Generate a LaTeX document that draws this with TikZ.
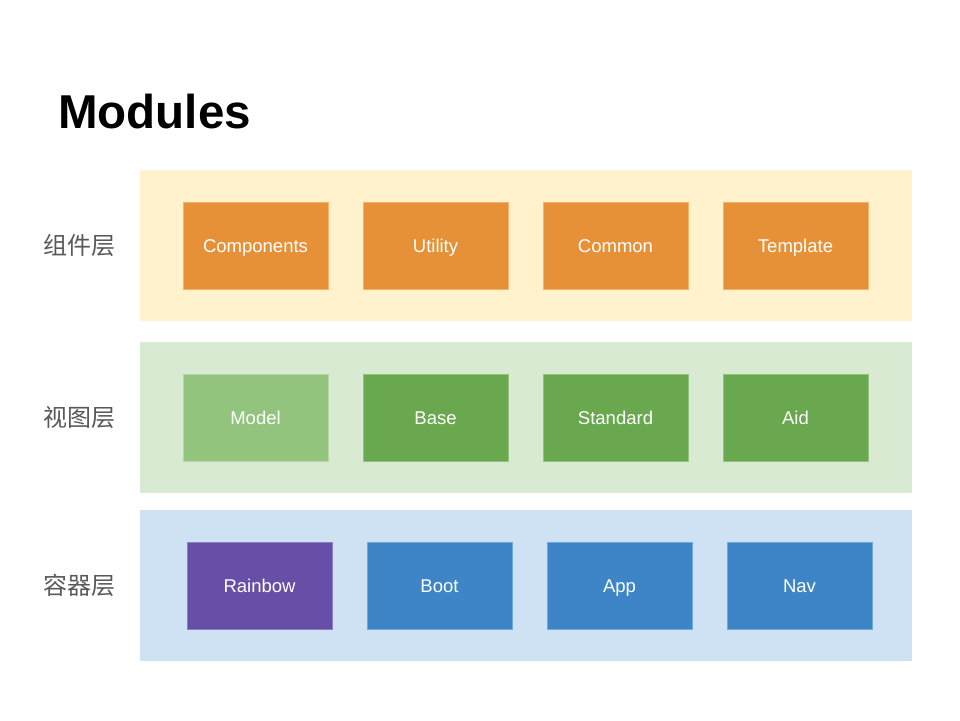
\documentclass[tikz,border=0pt]{standalone}
\usepackage{fontspec}
\setmainfont{Liberation Sans}
\newfontfamily\cjk{Noto Sans CJK SC}
\definecolor{bandY}{HTML}{FFF2CC}
\definecolor{bandG}{HTML}{D9EAD3}
\definecolor{bandB}{HTML}{CFE2F3}
\definecolor{orangeM}{HTML}{E69138}
\definecolor{orangeL}{HTML}{F6B26B}
\definecolor{greenM}{HTML}{6AA84F}
\definecolor{greenL}{HTML}{93C47D}
\definecolor{greenB}{HTML}{B6D7A8}
\definecolor{blueM}{HTML}{3D85C6}
\definecolor{blueL}{HTML}{6FA8DC}
\definecolor{purpleM}{HTML}{674EA7}
\definecolor{purpleL}{HTML}{8E7CC3}
\definecolor{labelgray}{HTML}{595959}
\begin{document}
\begin{tikzpicture}[x=1pt,y=-1pt,
  band/.style={draw=none,minimum width=772pt,minimum height=151pt,inner sep=0pt},
  modbox/.style={minimum width=145pt,minimum height=87pt,inner sep=0pt,line width=0.8pt,text=white,
    text height=16pt,text depth=2pt,font=\fontsize{18.5}{20}\selectfont},
  layerlabel/.style={text=labelgray,font=\cjk\fontsize{24}{26}\selectfont,inner sep=0pt},
  ]
\useasboundingbox (0,0) rectangle (960,720);
\fill[white] (0,0) rectangle (960,720);
\node[anchor=base west,inner sep=0pt,font=\bfseries\fontsize{47.5}{50}\selectfont] (title) at (58,128) {Modules};
% bands
\node[band,fill=bandY] (bandA) at (526,245.5) {};
\node[band,fill=bandG] (bandB) at (526,417.5) {};
\node[band,fill=bandB] (bandC) at (526,585.5) {};
% labels
\node[layerlabel] (labA) at (79.5,245.5) {组件层};
\node[layerlabel] (labB) at (79.5,417.5) {视图层};
\node[layerlabel] (labC) at (79.5,585.5) {容器层};
% row 1
\node[modbox,fill=orangeM,draw=orangeL] (components) at (255.5,245.5) {Components};
\node[modbox,fill=orangeM,draw=orangeL] (utility) at (435.5,245.5) {Utility};
\node[modbox,fill=orangeM,draw=orangeL] (common) at (615.5,245.5) {Common};
\node[modbox,fill=orangeM,draw=orangeL] (template) at (795.5,245.5) {Template};
% row 2
\node[modbox,fill=greenL,draw=greenB] (model) at (255.5,417.5) {Model};
\node[modbox,fill=greenM,draw=greenL] (base) at (435.5,417.5) {Base};
\node[modbox,fill=greenM,draw=greenL] (standard) at (615.5,417.5) {Standard};
\node[modbox,fill=greenM,draw=greenL] (aid) at (795.5,417.5) {Aid};
% row 3
\node[modbox,fill=purpleM,draw=purpleL] (rainbow) at (259.5,585.5) {Rainbow};
\node[modbox,fill=blueM,draw=blueL] (boot) at (439.5,585.5) {Boot};
\node[modbox,fill=blueM,draw=blueL] (app) at (619.5,585.5) {App};
\node[modbox,fill=blueM,draw=blueL] (nav) at (799.5,585.5) {Nav};
\end{tikzpicture}
\end{document}
